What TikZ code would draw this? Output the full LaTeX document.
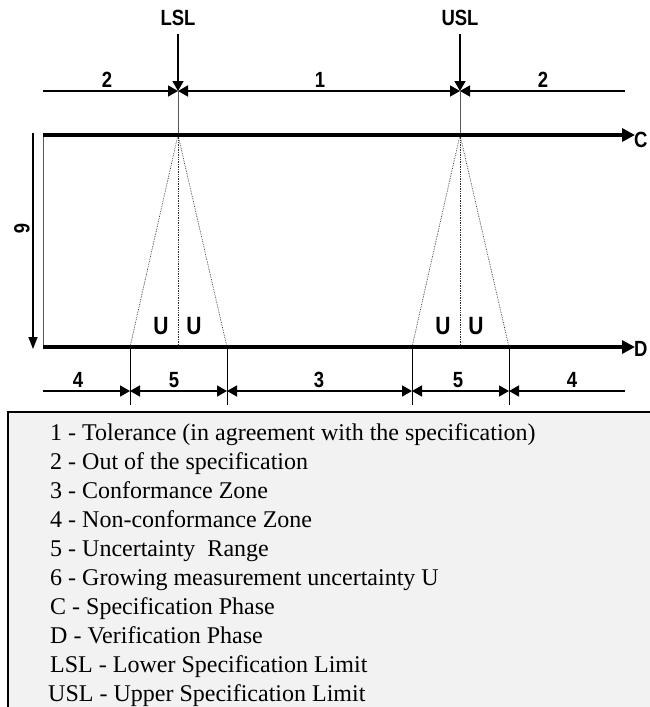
\documentclass[tikz,border=0pt]{standalone}
\usepackage{fontspec}
\setmainfont{Liberation Serif}
\newfontfamily\labfont{Liberation Sans}[FakeStretch=0.84, BoldFeatures={FakeStretch=0.84}]
\usetikzlibrary{arrows.meta}
\begin{document}
\begin{tikzpicture}[x=1pt,y=-1pt,
  lab/.style={font=\labfont\bfseries\fontsize{22}{24}\selectfont, inner sep=0pt},
  ulab/.style={font=\labfont\bfseries\fontsize{25}{26}\selectfont, inner sep=0pt},
  dimline/.style={line width=1.5pt},
  dimtip/.style={-{Triangle[length=10pt,width=11pt]}},
  bothtip/.style={{Triangle[length=10pt,width=11pt]}-{Triangle[length=10pt,width=11pt]}},
  phase/.style={line width=4pt,-{Triangle[length=13pt,width=13pt]}},
  thin/.style={line width=1pt, black!65},
  tick/.style={line width=0.9pt},
  dots/.style={densely dotted, line width=0.7pt, black!80},
  legend/.style={font=\fontsize{24}{26}\selectfont, anchor=base west, inner sep=0pt}
]
\useasboundingbox (0,0) rectangle (649,707);

% top labels
\node[lab] (lsl) at (178,18) {LSL};
\node[lab] (usl) at (460,18) {USL};
\coordinate (lT) at (178,91);
\coordinate (uT) at (460,91);
\coordinate (dL) at (43,91);
\coordinate (dR) at (625,91);
\draw[line width=1.5pt,dimtip] (178,34) -- (lT);
\draw[line width=1.5pt,dimtip] (460,34) -- (uT);
\draw[dimline,dimtip] (dL) -- (lT);
\draw[dimline,bothtip] (lT) -- (uT);
\draw[dimline,dimtip] (dR) -- (uT);
\node[lab] (t2a) at (107,80) {2};
\node[lab] (t1) at (320,80) {1};
\node[lab] (t2b) at (543,80) {2};

% phase lines
\coordinate (cL) at (43,135);
\coordinate (cR) at (635,135);
\coordinate (dlL) at (43,347);
\coordinate (dlR) at (635,347);
\coordinate (lC) at (178,135);
\coordinate (uC) at (460,135);
\draw[thin] (lT) -- (lC);
\draw[thin] (uT) -- (uC);
\draw[thin] (cL) -- (dlL);

% dotted cones
\coordinate (l1) at (130,347);
\coordinate (l2) at (178,347);
\coordinate (l3) at (227,347);
\coordinate (u1) at (412,347);
\coordinate (u2) at (460,347);
\coordinate (u3) at (509,347);
\draw[dots] (lC) -- (l1);
\draw[dots] (lC) -- (l2);
\draw[dots] (lC) -- (l3);
\draw[dots] (uC) -- (u1);
\draw[dots] (uC) -- (u2);
\draw[dots] (uC) -- (u3);

\draw[phase] (cL) -- (cR);
\draw[phase] (dlL) -- (dlR);
\node[lab, anchor=west] (cc) at (634,140) {C};
\node[lab, anchor=west] (dd) at (634,349) {D};

% growing uncertainty arrow
\coordinate (g1) at (33,133);
\coordinate (g2) at (33,349);
\draw[line width=1.5pt,-{Triangle[length=12pt,width=9pt]}] (g1) -- (g2);
\node[lab, rotate=-90] (six) at (22,229) {6};

% U labels
\node[ulab] (ua) at (161,326) {U};
\node[ulab] (ub) at (194,326) {U};
\node[ulab] (uc) at (443,326) {U};
\node[ulab] (ud) at (476,326) {U};

% bottom dimension
\coordinate (bL) at (43,391);
\coordinate (b1) at (130,391);
\coordinate (b2) at (227,391);
\coordinate (b3) at (412,391);
\coordinate (b4) at (509,391);
\coordinate (bR) at (625,391);
\coordinate (k1) at (130,405);
\coordinate (k2) at (227,405);
\coordinate (k3) at (412,405);
\coordinate (k4) at (509,405);
\draw[tick] (l1) -- (k1);
\draw[tick] (l3) -- (k2);
\draw[tick] (u1) -- (k3);
\draw[tick] (u3) -- (k4);
\draw[dimline,dimtip] (bL) -- (b1);
\draw[dimline,bothtip] (b1) -- (b2);
\draw[dimline,bothtip] (b2) -- (b3);
\draw[dimline,bothtip] (b3) -- (b4);
\draw[dimline,dimtip] (bR) -- (b4);
\node[lab] (z4a) at (78,380) {4};
\node[lab] (z5a) at (174,380) {5};
\node[lab] (z3) at (319,380) {3};
\node[lab] (z5b) at (458,380) {5};
\node[lab] (z4b) at (572,380) {4};

% legend
\draw[line width=1.8pt, fill=black!5] (8,412) rectangle (670,730);
\node[legend] (e1) at (50,440) {1 - Tolerance (in agreement with the specification)};
\node[legend] (e2) at (50,469) {2 - Out of the specification};
\node[legend] (e3) at (50,498) {3 - Conformance Zone};
\node[legend] (e4) at (50,527) {4 - Non-conformance Zone};
\node[legend] (e5) at (50,556) {5 - Uncertainty\ \ Range};
\node[legend] (e6) at (50,585) {6 - Growing measurement uncertainty U};
\node[legend] (e7) at (50,614) {C - Specification Phase};
\node[legend] (e8) at (50,643) {D - Verification Phase};
\node[legend] (e9) at (50,672) {LSL - Lower Specification Limit};
\node[legend] (e10) at (48,701) {USL - Upper Specification Limit};
\end{tikzpicture}
\end{document}
